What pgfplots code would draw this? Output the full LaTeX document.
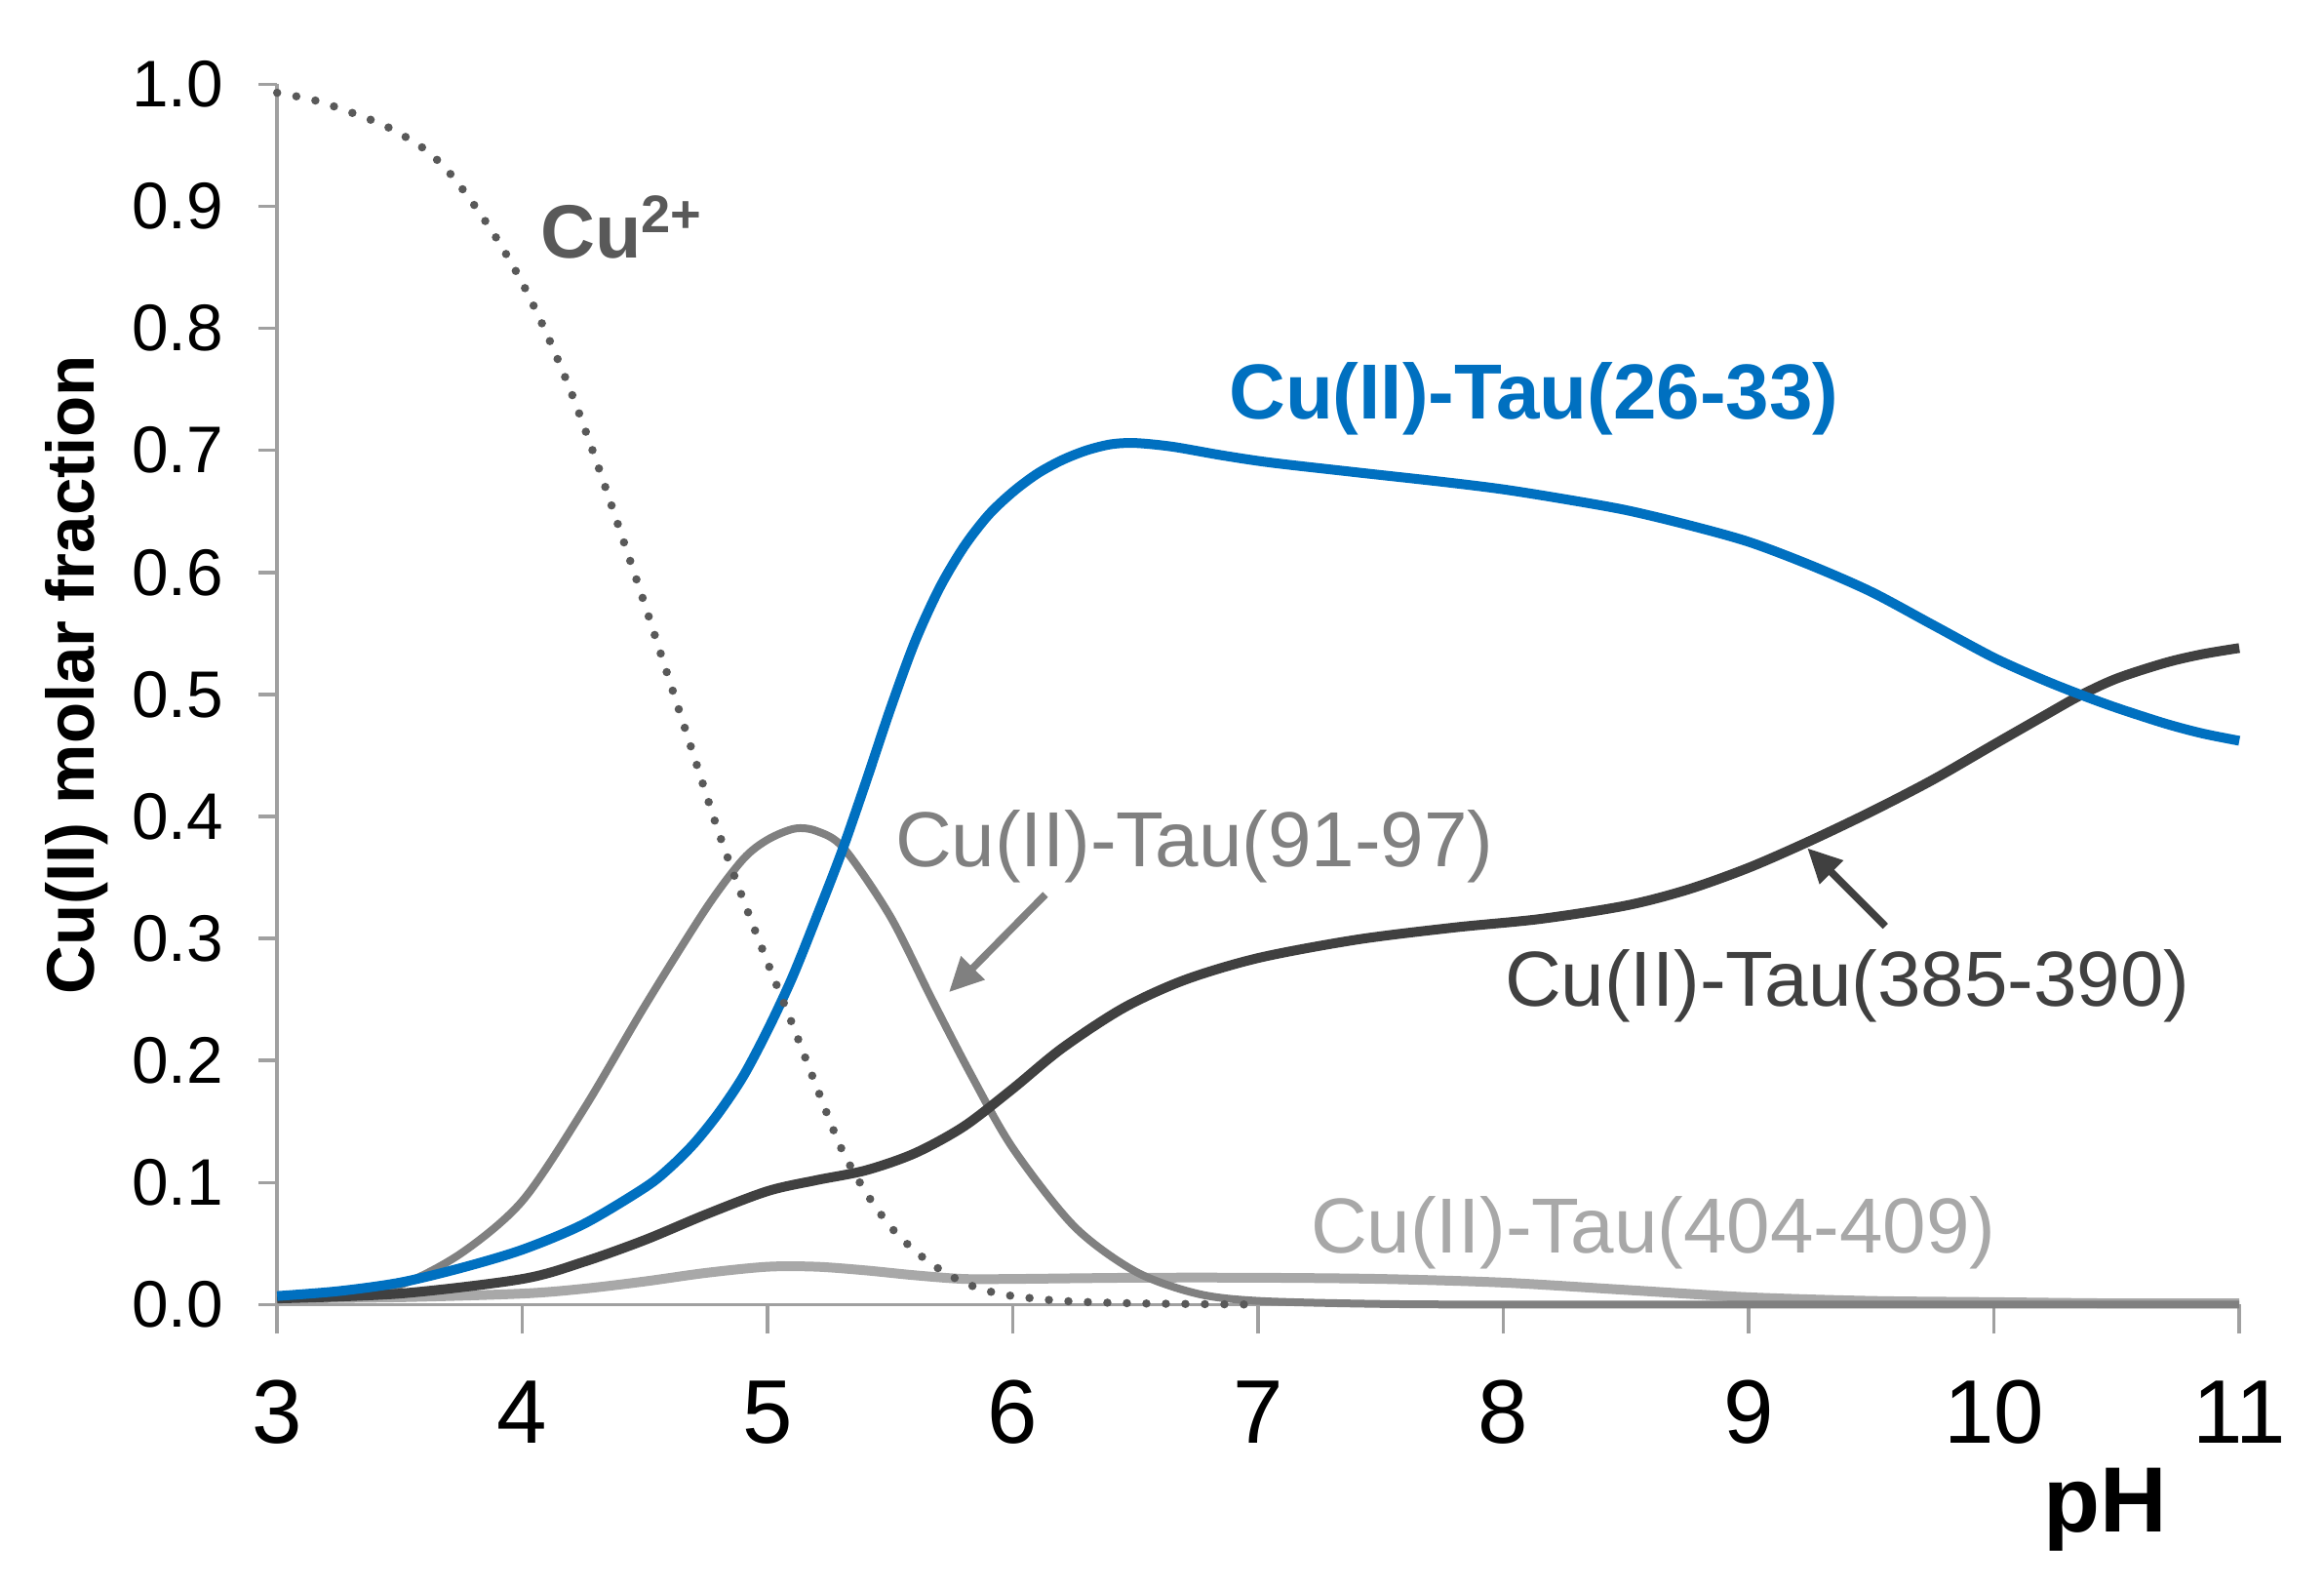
\documentclass[border=0pt]{standalone}
\usepackage{pgfplots}
\pgfplotsset{compat=1.18}
\usepackage{fontspec}
\setmainfont{Liberation Sans}
\usetikzlibrary{arrows.meta}
\definecolor{cublue}{RGB}{0,112,192}
\definecolor{cudark}{RGB}{64,64,64}
\definecolor{cumid}{RGB}{128,128,128}
\definecolor{culight}{RGB}{168,168,168}
\definecolor{cufree}{RGB}{89,89,89}
\definecolor{axgray}{RGB}{160,160,160}
\begin{document}
\begin{tikzpicture}
\begin{axis}[
  scale only axis, width=402.4pt, height=250.2pt,
  xmin=3, xmax=11, ymin=0, ymax=1,
  axis x line*=bottom, axis y line*=left,
  axis line style={axgray, line width=0.7pt},
  xtick={3,4,5,6,7,8,9,10,11},
  xticklabels={3,4,5,6,7,8,9,10,11},
  ytick={0,0.1,0.2,0.3,0.4,0.5,0.6,0.7,0.8,0.9,1.0},
  yticklabels={0.0,0.1,0.2,0.3,0.4,0.5,0.6,0.7,0.8,0.9,1.0},
  tick align=outside,
  major tick length=3.8pt,
  tick style={axgray, line width=0.7pt},
  xtick style={/pgfplots/major tick length=6pt},
  xticklabel style={font=\fontsize{18.5}{20}\selectfont, inner sep=0pt, anchor=north, yshift=-11.6pt},
  yticklabel style={font=\fontsize{13.5}{15}\selectfont, inner sep=0pt, anchor=east, xshift=-7pt},
  clip=false,
]
\coordinate (O) at (axis cs:3,0);

% Cu(II)-Tau(404-409)
\addplot[culight, line width=2pt, smooth] coordinates {
(3.0,0.005) (3.5,0.006) (4.0,0.009) (4.25,0.013) (4.5,0.019) (4.75,0.026)
(5.0,0.031) (5.2,0.031) (5.4,0.028) (5.6,0.024) (5.8,0.021) (6.0,0.021)
(6.5,0.022) (7.0,0.022) (7.5,0.021) (8.0,0.018) (8.5,0.012) (9.0,0.006)
(9.5,0.003) (10.0,0.002) (10.5,0.001) (11.0,0.001)};

% Cu(II)-Tau(91-97)
\addplot[cumid, line width=1.6pt, smooth] coordinates {
(3.0,0.005) (3.25,0.008) (3.5,0.016) (3.75,0.042) (4.0,0.085) (4.25,0.160)
(4.5,0.245) (4.75,0.325) (4.9,0.365) (5.0,0.381) (5.11,0.390) (5.2,0.388)
(5.31,0.374) (5.5,0.318) (5.67,0.250) (5.83,0.188) (6.0,0.128) (6.25,0.064)
(6.5,0.027) (6.75,0.009) (7.0,0.003) (7.5,0.0005) (8.0,0.0) (9.0,0.0)
(10.0,0.0) (11.0,0.0)};

% Cu(II)-Tau(385-390)
\addplot[cudark, line width=2pt, smooth] coordinates {
(3.0,0.005) (3.5,0.009) (4.0,0.021) (4.25,0.035) (4.5,0.053) (4.75,0.074)
(5.0,0.093) (5.2,0.102) (5.4,0.110) (5.6,0.124) (5.8,0.146) (6.0,0.177)
(6.2,0.210) (6.45,0.243) (6.7,0.266) (7.0,0.284) (7.4,0.299) (7.8,0.309)
(8.15,0.316) (8.5,0.327) (8.75,0.340) (9.0,0.358) (9.25,0.380) (9.5,0.404)
(9.75,0.430) (10.0,0.459) (10.2,0.482) (10.35,0.499) (10.5,0.513)
(10.7,0.526) (10.85,0.533) (11.0,0.538)};

% Cu(II)-Tau(26-33)
\addplot[cublue, line width=2pt, smooth] coordinates {
(3.0,0.007) (3.25,0.011) (3.5,0.018) (3.75,0.030) (4.0,0.045) (4.25,0.066)
(4.5,0.096) (4.6,0.112) (4.7,0.132) (4.8,0.157) (4.9,0.187) (5.0,0.225)
(5.1,0.268) (5.2,0.318) (5.3,0.370) (5.4,0.428) (5.5,0.488) (5.6,0.543)
(5.7,0.587) (5.8,0.621) (5.9,0.647) (6.0,0.666) (6.1,0.681) (6.2,0.692)
(6.3,0.700) (6.4,0.705) (6.5,0.706) (6.65,0.703) (6.85,0.696) (7.05,0.690)
(7.4,0.682) (7.76,0.674) (8.0,0.668) (8.25,0.660) (8.5,0.651) (8.75,0.639)
(9.0,0.625) (9.25,0.606) (9.5,0.584) (9.75,0.557) (10.0,0.530) (10.2,0.512)
(10.35,0.500) (10.5,0.489) (10.7,0.476) (10.85,0.468) (11.0,0.462)};

% Cu2+
\addplot[cufree, line width=1.7pt, line cap=round, dash pattern=on 0pt off 4pt, smooth] coordinates {
(3.0,0.993) (3.15,0.987) (3.3,0.977) (3.45,0.965) (3.6,0.947) (3.7,0.928)
(3.8,0.902) (3.9,0.872) (4.0,0.837) (4.1,0.795) (4.2,0.747) (4.3,0.692)
(4.4,0.633) (4.5,0.573) (4.6,0.511) (4.7,0.449) (4.8,0.387) (4.9,0.332)
(5.0,0.280) (5.1,0.230) (5.2,0.178) (5.3,0.128) (5.4,0.092) (5.5,0.064)
(5.6,0.044) (5.7,0.029) (5.8,0.018) (5.9,0.011) (6.0,0.007) (6.2,0.003)
(6.5,0.001) (7.0,0.0)};

% labels
\node[anchor=base, inner sep=0pt, text=cublue, font=\fontsize{16}{18}\selectfont\bfseries] at (axis cs:8.124,0.7255) {Cu(II)-Tau(26-33)};
\node[anchor=base, inner sep=0pt, text=cumid, font=\fontsize{16}{18}\selectfont] at (axis cs:6.740,0.359) {Cu(II)-Tau(91-97)};
\node[anchor=base, inner sep=0pt, text=cudark, font=\fontsize{16}{18}\selectfont] at (axis cs:9.402,0.2442) {Cu(II)-Tau(385-390)};
\node[anchor=base, inner sep=0pt, text=culight, font=\fontsize{16}{18}\selectfont] at (axis cs:8.611,0.0419) {Cu(II)-Tau(404-409)};
\node[anchor=base west, inner sep=0pt, text=cufree, font=\fontsize{15.5}{18}\selectfont\bfseries] at (axis cs:4.069,0.8574) {Cu\textsuperscript{2+}};
\node[anchor=base, inner sep=0pt, font=\fontsize{19}{21}\selectfont\bfseries] at (axis cs:10.453,-0.186) {pH};
\node[rotate=90, anchor=center, inner sep=0pt, font=\fontsize{13.8}{16}\selectfont\bfseries] at ([xshift=-41.1pt]axis cs:3,0.516) {Cu(II) molar fraction};

% arrows
\draw[cumid, line width=1.5pt, -{Triangle[length=7pt,width=6.5pt]}] (axis cs:6.132,0.336) -- (axis cs:5.739,0.256);
\draw[cudark, line width=1.5pt, -{Triangle[length=7pt,width=6.5pt]}] (axis cs:9.557,0.310) -- (axis cs:9.239,0.374);
\end{axis}
\pgfresetboundingbox
\path (O) ++(-56.84pt,-58.52pt) rectangle ++(476.6pt,326pt);
\end{tikzpicture}
\end{document}
